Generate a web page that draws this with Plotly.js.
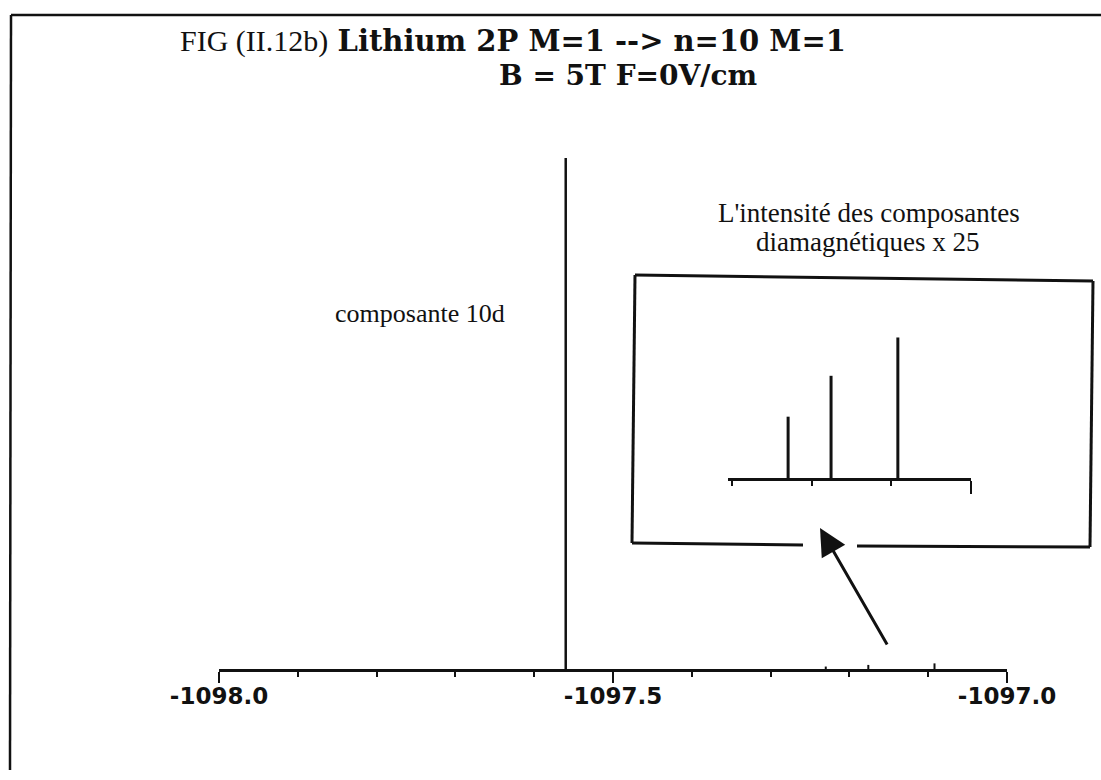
<!DOCTYPE html>
<html>
<head>
<meta charset="utf-8">
<script src="https://cdn.plot.ly/plotly-3.0.1.min.js"></script>
<style>html,body{margin:0;padding:0;background:#fff;}#chart{width:1101px;height:780px;}</style>
</head>
<body>
<div id="chart"></div>
<script>
// ---- data ----
const mainComponentName = 'composante 10d';
const mainPositions = [-1097.56];
const mainIntensities = [1.0];
const diaPositions = [-1097.23, -1097.176, -1097.092];
const diaIntensities = [0.0048, 0.0080, 0.0110];
const magnification = 25;
const xRange = [-1098.0, -1097.0];
const insetXRange = [-1097.3056, -1097.0];
const tickValues = [-1098.0, -1097.5, -1097.0];
const tickLabels = ['-1098.0', '-1097.5', '-1097.0'];
const titleLine1a = 'FIG (II.12b)';
const titleLine1b = 'Lithium 2P M=1 --> n=10 M=1';
const titleLine2 = 'B = 5T F=0V/cm';
const insetNote1 = "L'intensité des composantes";
const insetNote2 = 'diamagnétiques x ' + magnification;

// ---- layout helpers ----
const W = 1101, H = 780;
const px = x => x / W;
const py = y => 1 - y / H;

function sticks(xs, ys) {
  const X = [], Y = [];
  for (let i = 0; i < xs.length; i++) {
    X.push(xs[i], xs[i], null);
    Y.push(0, ys[i], null);
  }
  return {X, Y};
}

const mainDom = [py(669), py(158)];
const insetDom = [py(478), py(300)];
const insetTop = (insetDom[1] - insetDom[0]) / (mainDom[1] - mainDom[0]) / magnification;

const m = sticks(mainPositions, mainIntensities);
const d = sticks(diaPositions, diaIntensities);

const black = '#111';
const traces = [
  {x: m.X, y: m.Y, mode: 'lines', line: {color: black, width: 2.5}, xaxis: 'x', yaxis: 'y', hoverinfo: 'skip'},
  {x: d.X, y: d.Y, mode: 'lines', line: {color: black, width: 2}, xaxis: 'x', yaxis: 'y', hoverinfo: 'skip'},
  {x: d.X, y: d.Y, mode: 'lines', line: {color: black, width: 3}, xaxis: 'x2', yaxis: 'y2', hoverinfo: 'skip'}
];

function seg(x0, y0, x1, y1, w) {
  return {type: 'line', xref: 'paper', yref: 'paper', x0: px(x0), y0: py(y0), x1: px(x1), y1: py(y1),
          line: {color: black, width: w}};
}

const layout = {
  width: W, height: H,
  margin: {l: 0, r: 0, t: 0, b: 0},
  paper_bgcolor: '#fff', plot_bgcolor: 'rgba(0,0,0,0)',
  showlegend: false,
  xaxis: {
    domain: [px(219), px(1007)], range: xRange, anchor: 'y',
    showline: true, linewidth: 3, linecolor: black, showgrid: false, zeroline: false,
    ticks: 'outside', ticklen: 11, tickwidth: 2.5, tickcolor: black,
    tickmode: 'array', tickvals: tickValues, ticktext: tickLabels,
    ticklabelstandoff: -7,
    tickfont: {family: 'DejaVu Sans', size: 23, color: black, weight: 'bold'},
    minor: {ticks: 'outside', ticklen: 5, tickwidth: 2, tickcolor: black, dtick: 0.1, tick0: -1098.0},
    fixedrange: true
  },
  yaxis: {domain: mainDom, range: [0, 1], anchor: 'x', visible: false, fixedrange: true},
  xaxis2: {
    domain: [px(728), px(971)], range: insetXRange, anchor: 'y2',
    showline: true, linewidth: 3, linecolor: black, showgrid: false, zeroline: false,
    ticks: 'outside', ticklen: 13, tickwidth: 2.5, tickcolor: black,
    tickmode: 'array', tickvals: [xRange[1]], showticklabels: false,
    minor: {ticks: 'outside', ticklen: 5, tickwidth: 2, tickcolor: black, dtick: 0.1, tick0: xRange[1]},
    fixedrange: true
  },
  yaxis2: {domain: insetDom, range: [0, insetTop], anchor: 'x2', visible: false, fixedrange: true},
  shapes: [
    // page frame
    seg(11, 15, 1101, 15, 2.5),
    seg(11, 15, 10, 770, 2.5),
    // inset box with gap for the arrow
    seg(635, 275, 1093, 281, 3),
    seg(635, 275, 632, 543, 3),
    seg(1093, 281, 1090, 547, 3),
    seg(632, 543, 803, 545, 3),
    seg(857, 546, 1090, 547, 3)
  ],
  annotations: [
    {xref: 'paper', yref: 'paper', x: px(178), y: py(41), xanchor: 'left', yanchor: 'middle', showarrow: false,
     text: '<span style="font-family:\'Liberation Serif\';font-size:30px">' + titleLine1a + '</span> <b>' + titleLine1b + '</b>',
     font: {family: 'DejaVu Serif', size: 29, color: black}},
    {xref: 'paper', yref: 'paper', x: px(497), y: py(76), xanchor: 'left', yanchor: 'middle', showarrow: false,
     text: '<b>' + titleLine2 + '</b>', font: {family: 'DejaVu Serif', size: 28, color: black}},
    {xref: 'paper', yref: 'paper', x: px(333), y: py(313), xanchor: 'left', yanchor: 'middle', showarrow: false,
     text: mainComponentName, font: {family: 'Liberation Serif', size: 26, color: black}},
    {xref: 'paper', yref: 'paper', x: px(869), y: py(213), xanchor: 'center', yanchor: 'middle', showarrow: false,
     text: insetNote1, font: {family: 'Liberation Serif', size: 27, color: black}},
    {xref: 'paper', yref: 'paper', x: px(867), y: py(242), xanchor: 'center', yanchor: 'middle', showarrow: false,
     text: insetNote2, font: {family: 'Liberation Serif', size: 27, color: black}},
    {xref: 'paper', yref: 'paper', x: px(820), y: py(528), ax: 68, ay: 118, axref: 'pixel', ayref: 'pixel',
     text: '', showarrow: true, arrowhead: 2, arrowsize: 1.8, arrowwidth: 3, arrowcolor: black, standoff: 0}
  ]
};

Plotly.newPlot('chart', traces, layout, {staticPlot: true, displayModeBar: false});
</script>
</body>
</html>
